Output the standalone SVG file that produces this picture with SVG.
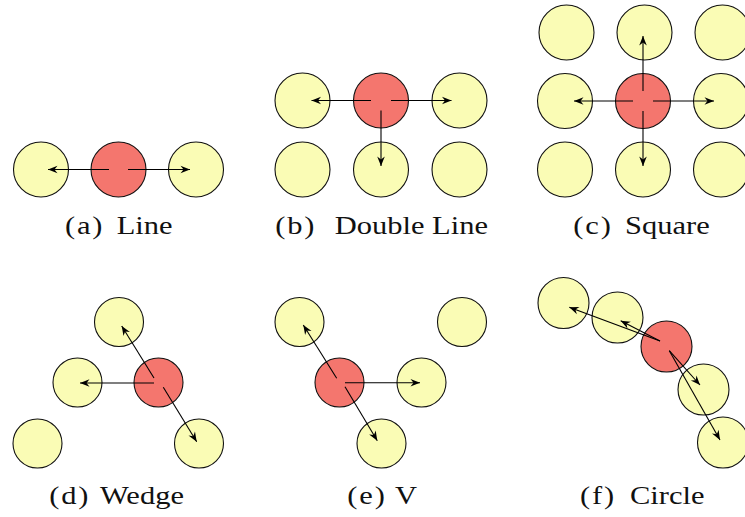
<svg xmlns="http://www.w3.org/2000/svg" width="745" height="517" viewBox="0 0 745 517">
<style>
.y{fill:#FAFCB5;stroke:#111;stroke-width:1.1}
.r{fill:#F4766E;stroke:#111;stroke-width:1.1}
.a{stroke:#000;stroke-width:1.1;fill:none;marker-end:url(#ah)}
.c{font-size:25px;fill:#111}
.l{letter-spacing:1.5px}
</style>
<defs>
<marker id="ah" viewBox="-10 -5 11 10" refX="0" refY="0" markerWidth="11" markerHeight="10" markerUnits="userSpaceOnUse" orient="auto">
<path d="M0,0 L-9.5,-3.8 L-6.5,0 L-9.5,3.8 Z" fill="#000"/>
</marker>
</defs>
<rect width="745" height="517" fill="#fff"/>
<!-- (a) Line -->
<g id="a-nodes">
<g id="a1"><circle class="y" cx="41" cy="169.5" r="27.5"/></g>
<g id="a0"><circle class="r" cx="118.5" cy="169.5" r="27.5"/></g>
<g id="a2"><circle class="y" cx="196" cy="169.5" r="27.5"/></g>
</g>
<!-- (b) Double Line -->
<g id="b-nodes">
<g id="b1"><circle class="y" cx="302.5" cy="100.5" r="27.5"/></g>
<g id="b0"><circle class="r" cx="381" cy="100.5" r="27.5"/></g>
<g id="b2"><circle class="y" cx="459.5" cy="100.5" r="27.5"/></g>
<g id="b3"><circle class="y" cx="302.5" cy="169.5" r="27.5"/></g>
<g id="b4"><circle class="y" cx="381" cy="169.5" r="27.5"/></g>
<g id="b5"><circle class="y" cx="459.5" cy="169.5" r="27.5"/></g>
</g>
<!-- (c) Square -->
<g id="c-nodes">
<g id="c1"><circle class="y" cx="566.5" cy="32.5" r="27.5"/></g>
<g id="c2"><circle class="y" cx="644.5" cy="32.5" r="27.5"/></g>
<g id="c3"><circle class="y" cx="722.5" cy="32.5" r="27.5"/></g>
<g id="c4"><circle class="y" cx="565" cy="101" r="27.5"/></g>
<g id="c0"><circle class="r" cx="643" cy="101" r="27.5"/></g>
<g id="c5"><circle class="y" cx="721" cy="101" r="27.5"/></g>
<g id="c6"><circle class="y" cx="565" cy="169.5" r="27.5"/></g>
<g id="c7"><circle class="y" cx="643" cy="169.5" r="27.5"/></g>
<g id="c8"><circle class="y" cx="721" cy="169.5" r="27.5"/></g>
</g>
<!-- (d) Wedge -->
<g id="d-nodes">
<g id="d1"><circle class="y" cx="119" cy="322" r="24.5"/></g>
<g id="d2"><circle class="y" cx="77.5" cy="382.5" r="24.5"/></g>
<g id="d0"><circle class="r" cx="158.5" cy="382.5" r="24.5"/></g>
<g id="d3"><circle class="y" cx="37.5" cy="443.5" r="24.5"/></g>
<g id="d4"><circle class="y" cx="199" cy="443.5" r="24.5"/></g>
</g>
<!-- (e) V -->
<g id="e-nodes">
<g id="e1"><circle class="y" cx="299.5" cy="322" r="24.5"/></g>
<g id="e2"><circle class="y" cx="462" cy="322" r="24.5"/></g>
<g id="e0"><circle class="r" cx="339.5" cy="382.5" r="24.5"/></g>
<g id="e3"><circle class="y" cx="421.5" cy="382.5" r="24.5"/></g>
<g id="e4"><circle class="y" cx="381.5" cy="443.5" r="24.5"/></g>
</g>
<!-- (f) Circle -->
<g id="f-nodes">
<g id="f1"><circle class="y" cx="563.5" cy="303" r="25.5"/></g>
<g id="f2"><circle class="y" cx="617.5" cy="317.5" r="25.5"/></g>
<g id="f0"><circle class="r" cx="666.5" cy="346.5" r="25.5"/></g>
<g id="f3"><circle class="y" cx="703.5" cy="389.5" r="25.5"/></g>
<g id="f4"><circle class="y" cx="723" cy="442.5" r="25.5"/></g>
</g>
<g id="connectors">
<line class="a" x1="109" y1="169.5" x2="48" y2="169.5"/>
<line class="a" x1="128" y1="169.5" x2="190" y2="169.5"/>
<line class="a" x1="371" y1="100.5" x2="311.5" y2="100.5"/>
<line class="a" x1="391" y1="100.5" x2="451.5" y2="100.5"/>
<line class="a" x1="381" y1="110.5" x2="381" y2="166"/>
<line class="a" x1="643" y1="91" x2="643" y2="36"/>
<line class="a" x1="643" y1="111" x2="643" y2="166"/>
<line class="a" x1="633" y1="101" x2="574" y2="101"/>
<line class="a" x1="653" y1="101" x2="714" y2="101"/>
<line class="a" x1="154" y1="378" x2="121.7" y2="326"/>
<line class="a" x1="154" y1="383" x2="80" y2="383"/>
<line class="a" x1="163.3" y1="387.3" x2="196.7" y2="441.7"/>
<line class="a" x1="336.7" y1="378.3" x2="303.3" y2="325"/>
<line class="a" x1="345" y1="382.7" x2="420" y2="382.7"/>
<line class="a" x1="345" y1="386.7" x2="377.3" y2="440.7"/>
<line class="a" x1="660" y1="341" x2="569.3" y2="307.3"/>
<line class="a" x1="660" y1="341" x2="620.7" y2="320.7"/>
<line class="a" x1="669.3" y1="350.7" x2="700" y2="385"/>
<line class="a" x1="669.3" y1="350.7" x2="720" y2="440"/>
</g>
<g id="captions" font-family="'Liberation Serif', 'Times New Roman', serif">
<text class="c" transform="translate(65,234) scale(1.22,1)"><tspan class="l">(a)</tspan> <tspan x="42.4">Line</tspan></text>
<text class="c" transform="translate(275.3,234) scale(1.22,1)"><tspan class="l">(b)</tspan> <tspan x="48.7">Double Line</tspan></text>
<text class="c" transform="translate(573.3,234) scale(1.22,1)"><tspan class="l">(c)</tspan> <tspan x="42.4">Square</tspan></text>
<text class="c" transform="translate(49.3,503.5) scale(1.22,1)"><tspan class="l">(d)</tspan> <tspan x="41.6">Wedge</tspan></text>
<text class="c" transform="translate(347.3,503.5) scale(1.22,1)"><tspan class="l">(e)</tspan> <tspan x="39.1">V</tspan></text>
<text class="c" transform="translate(580,503.5) scale(1.22,1)"><tspan class="l">(f)</tspan> <tspan x="41">Circle</tspan></text>
</g>
</svg>
